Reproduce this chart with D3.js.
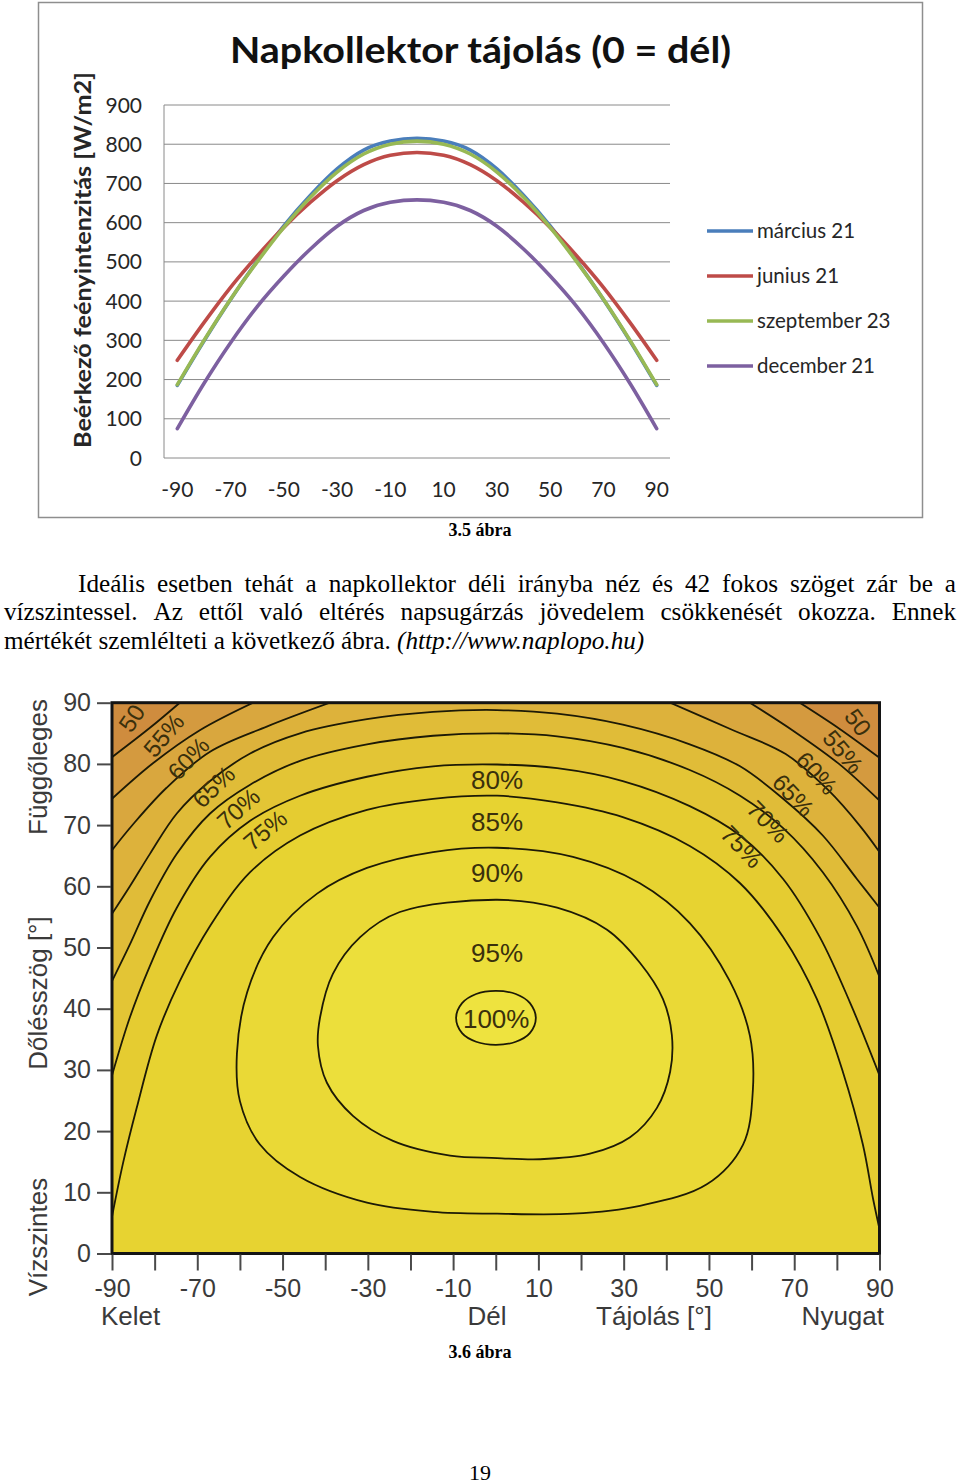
<!DOCTYPE html>
<html><head><meta charset="utf-8">
<script src="https://cdn.jsdelivr.net/npm/d3@7"></script>
<style>
html,body{margin:0;padding:0;background:#fff;}
svg{display:block;}
</style></head><body>
<svg id="page" width="960" height="1484"></svg>
<script>
// ===================== Chart 1 data =====================
const azimuths = [-90,-80,-70,-60,-50,-40,-30,-20,-10,0,10,20,30,40,50,60,70,80,90];
const azimuthLabels = [-90,-70,-50,-30,-10,10,30,50,70,90];
const irradianceTicks = [0,100,200,300,400,500,600,700,800,900];
const marcius21    = [185,298,404,502,592,670,737,785,808,815,808,785,737,670,592,502,404,298,185];
const junius21     = [249,345,435,515,588,652,707,748,772,779,772,748,707,652,588,515,435,345,249];
const szeptember23 = [187,300,405,500,588,665,729,775,800,808,800,775,729,665,588,500,405,300,187];
const december21   = [75,190,294,386,464,533,591,631,652,658,652,631,591,533,464,386,294,190,75];
const seriesNames  = ["március 21","junius 21","szeptember 23","december 21"];
const seriesColors = ["#4A7EBB","#BE4B48","#98B954","#7D60A0"];

// ===================== Chart 2 data =====================
const tiltTicks = [0,10,20,30,40,50,60,70,80,90];
const orientTicks = [-90,-80,-70,-60,-50,-40,-30,-20,-10,0,10,20,30,40,50,60,70,80,90];
const orientLabels = [-90,-70,-50,-30,-10,10,30,50,70,90];
// contour lines: [azimuth, tilt] points
const contour55 = [[[-90,81.1],[-81.1,85.9],[-74.1,90]], [[71.3,90],[80.5,85.8],[90,81]]];
const contour60 = [[[-90,74.3],[-80.4,80.1],[-69.4,85.5],[-56.9,90]], [[59.6,90],[70,85.3],[80.5,80],[90,74]]];
const contour65 = [[[-90,65.9],[-85.1,70.1],[-77.2,76.1],[-67,82],[-53.7,86.1],[-38.9,90]],
                   [[40.9,90],[55,85.7],[68,81.6],[78,75.7],[85.5,69.8],[90,65.6]]];
const contour70 = [[[-90,55.5],[-85.8,60],[-81.1,65.3],[-74.8,71.9],[-67,77.2],[-57.6,81.7],[-45.9,85],[-30.2,87.3],[-14.7,88.5],[0.3,88.8],[14.4,88.2],[29.8,86.4],[45.5,83.2],[57.3,79.6],[67.4,74.3],[76.7,68.3],[84.7,61.2],[90,56.5]]];
const contour75 = [[[-90,44.5],[-85.8,50.5],[-81.1,57.6],[-74.8,65.3],[-67,71.9],[-57.6,76.6],[-45.9,80.5],[-30.2,83.2],[-14.7,84.6],[0.3,85],[14.4,84.5],[29.8,82.6],[45.5,79],[57.3,74.8],[67.4,69.5],[76.7,62.3],[84.7,53.5],[90,45.2]]];
const contour80 = [[[-90,29.1],[-85.8,38.6],[-81.1,47],[-74.8,56.5],[-67,64.8],[-57.6,70.7],[-45.9,74.8],[-30.2,77.9],[-14.7,79.6],[0.3,79.9],[14.4,79.3],[29.8,77.2],[45.5,73.1],[57.3,68.3],[67.4,61.2],[76,51.7],[83.1,41],[90,29.1]]];
const contour85 = [[[-90,6],[-87.4,14.8],[-84.2,23.8],[-79.5,35.6],[-74.1,44.5],[-67,53.5],[-57.6,62.3],[-45.9,68.3],[-30.2,72.5],[-14.7,74.3],[0.3,74.8],[14.4,73.7],[29.8,71.3],[45.5,66.6],[57.3,60.5],[67.4,51.7],[75.3,41.6],[81.4,29.7],[86.1,17.8],[88.5,8.9],[90,4]]];
const contour90 = [[0.3,66.3],[18.1,64.8],[33.8,60.5],[45.5,54],[54.9,44.5],[59.6,35.6],[60.3,26.7],[58,17.8],[49.5,11.3],[33.8,7.8],[18.1,6.5],[0.3,6.5],[-14.7,6.8],[-30.2,8.3],[-45.9,12.5],[-55.3,17.8],[-60,24.9],[-60.7,32.7],[-58.3,42.7],[-52.2,51.7],[-41.9,58.8],[-30.2,63],[-14.7,65.6]];
const contour95 = [[0.3,57.8],[14.4,56.5],[26.1,52.9],[33.8,47.5],[39.2,41.6],[41.3,35.7],[40.9,29.7],[37.8,23.8],[31.5,19],[22.1,16.3],[10.4,15.4],[0.3,15.6],[-10.7,16],[-24.1,18.4],[-33.5,22.5],[-39.6,27.9],[-41.7,33.9],[-41.2,38.6],[-38.2,45.7],[-31.8,51.7],[-22.5,55.8]];
const contour100 = [[-9.3,38.5],[-7.9,40.9],[-4.6,42.4],[0,42.9],[4.7,42.4],[8,40.9],[9.4,38.5],[8,36],[4.7,34.6],[0,34.1],[-4.6,34.6],[-7.9,36]];
const openContours = [contour55,contour60,contour65,contour70,contour75,contour80,contour85];
const closedContours = [contour90,contour95,contour100];
const bandColors = ["#CF8C3E","#D49A3F","#D9A73E","#DDB23B","#E0BC38","#E3C535","#E5CC31","#E7D331","#EAD936","#ECDF3B","#EEE33F"];
// contour labels
const labelTexts  = ["50","55%","60%","65%","70%","75%","50","55%","60%","65%","70%","75%","80%","85%","90%","95%","100%"];
const labelAz     = [-85.4,-77.9,-72.1,-66.2,-60.4,-54.1, 85.0,81.5,75.3,69.8,63.9,57.7, 0.3,0.3,0.3,0.3,0.1];
const labelTilt   = [87.5,84.7,80.9,76.3,72.7,69.2, 86.8,82.0,78.5,74.9,70.6,66.5, 77.5,70.5,62.3,49.1,38.3];
const labelAngle  = [-56,-50,-47,-44,-42,-40, 54,50,48,47,46,46, 0,0,0,0,0];

// ===================== drawing =====================
const svg = d3.select("#page");
const calibri = "Lato, 'Open Sans', sans-serif";
const serif = "'Liberation Serif','Times New Roman',serif";
const sans = "'Liberation Sans', Arial, sans-serif";

// ---------- Chart 1 ----------
const x1 = d3.scalePoint().domain(azimuths).range([164,670]).padding(0.5);
const y1 = d3.scaleLinear().domain([0,900]).range([458,105]);
const g1 = svg.append("g");
g1.append("rect").attr("x",38.5).attr("y",2.5).attr("width",884).attr("height",515)
  .attr("fill","#fff").attr("stroke","#8e8e8e").attr("stroke-width",1.5);
g1.append("text").attr("x",480.5).attr("y",63).attr("text-anchor","middle")
  .attr("font-family",calibri).attr("font-weight",700).attr("font-size",37).attr("fill","#111")
  .attr("textLength",501).attr("lengthAdjust","spacingAndGlyphs")
  .text("Napkollektor tájolás (0 = dél)");
g1.selectAll(".grid").data(irradianceTicks).enter().append("line")
  .attr("x1",164).attr("x2",670).attr("y1",d=>y1(d)).attr("y2",d=>y1(d))
  .attr("stroke","#8a8a8a").attr("stroke-width",1);
g1.append("line").attr("x1",164).attr("x2",164).attr("y1",y1(900)).attr("y2",y1(0))
  .attr("stroke","#8a8a8a").attr("stroke-width",1);
g1.selectAll(".ylab").data(irradianceTicks).enter().append("text")
  .attr("x",142).attr("y",d=>y1(d)).attr("dy","0.36em").attr("text-anchor","end")
  .attr("font-family",calibri).attr("font-size",21).attr("fill","#262626").text(d=>d);
g1.selectAll(".xlab").data(azimuthLabels).enter().append("text")
  .attr("x",d=>x1(d)).attr("y",497).attr("text-anchor","middle")
  .attr("font-family",calibri).attr("font-size",21).attr("fill","#262626").text(d=>d);
g1.append("text").attr("transform","translate(83,260) rotate(-90)")
  .attr("text-anchor","middle").attr("dy","0.35em")
  .attr("font-family",calibri).attr("font-weight",700).attr("font-size",23).attr("fill","#262626")
  .attr("textLength",376).attr("lengthAdjust","spacingAndGlyphs")
  .text("Beérkező feényintenzitás [W/m2]");
const series = [marcius21,junius21,szeptember23,december21];
const line1 = d3.line().x((d,i)=>x1(azimuths[i])).y(d=>y1(d)).curve(d3.curveMonotoneX);
series.forEach((s,i)=>{
  g1.append("path").attr("d",line1(s)).attr("fill","none").attr("stroke",seriesColors[i])
    .attr("stroke-width",3.6).attr("stroke-linecap","round").attr("stroke-linejoin","round");
});
seriesNames.forEach((n,i)=>{
  const yy = 231 + i*45;
  g1.append("line").attr("x1",707).attr("x2",753).attr("y1",yy).attr("y2",yy)
    .attr("stroke",seriesColors[i]).attr("stroke-width",3.6);
  g1.append("text").attr("x",757).attr("y",yy).attr("dy","0.35em")
    .attr("font-family",calibri).attr("font-size",20.5).attr("fill","#262626").text(n);
});
svg.append("text").attr("x",480).attr("y",536).attr("text-anchor","middle")
  .attr("font-family",serif).attr("font-weight",700).attr("font-size",18).text("3.5 ábra");

// ---------- Paragraph ----------
const paraFont = 25.2;
const paraLines = [
  {x0:78, x1:956, y:592, words:"Ideális esetben tehát a napkollektor déli irányba néz és 42 fokos szöget zár be a".split(" ")},
  {x0:4, x1:956, y:620, words:"vízszintessel. Az ettől való eltérés napsugárzás jövedelem csökkenését okozza. Ennek".split(" ")}
];
paraLines.forEach(L=>{
  const nodes = L.words.map(w=>svg.append("text").attr("y",L.y).attr("font-family",serif)
     .attr("font-size",paraFont).attr("fill","#000").text(w));
  const widths = nodes.map(n=>n.node().getComputedTextLength());
  const gap = (L.x1 - L.x0 - d3.sum(widths)) / (nodes.length-1);
  let xx = L.x0;
  nodes.forEach((n,i)=>{ n.attr("x",xx); xx += widths[i] + gap; });
});
const last = svg.append("text").attr("x",4).attr("y",649).attr("font-family",serif)
  .attr("font-size",paraFont).attr("fill","#000");
last.append("tspan").text("mértékét szemlélteti a következő ábra. ");
last.append("tspan").attr("font-style","italic").text("(http://www.naplopo.hu)");

// ---------- Chart 2 ----------
const x2 = d3.scaleLinear().domain([-90,90]).range([112,879.5]);
const y2 = d3.scaleLinear().domain([0,90]).range([1253.5,702.7]);
const g2 = svg.append("g");
g2.append("clipPath").attr("id","plotclip").append("rect")
  .attr("x",x2(-90)).attr("y",y2(90)).attr("width",x2(90)-x2(-90)).attr("height",y2(0)-y2(90));
const plot = g2.append("g").attr("clip-path","url(#plotclip)");
plot.append("rect").attr("x",x2(-90)).attr("y",y2(90)).attr("width",x2(90)-x2(-90))
  .attr("height",y2(0)-y2(90)).attr("fill",bandColors[0]);
const lineOpen = d3.line().x(d=>x2(d[0])).y(d=>y2(d[1])).curve(d3.curveCatmullRom);
const lineClosed = d3.line().x(d=>x2(d[0])).y(d=>y2(d[1])).curve(d3.curveCatmullRomClosed);
openContours.forEach((segs,k)=>{
  let d = "";
  segs.forEach((s,i)=>{ let p = lineOpen(s); if(i>0) p = p.replace(/^M/,"L"); d += p; });
  d += `L${x2(90)},${y2(0)}L${x2(-90)},${y2(0)}Z`;
  plot.append("path").attr("d",d).attr("fill",bandColors[k+1]);
});
closedContours.forEach((c,k)=>{
  plot.append("path").attr("d",lineClosed(c)).attr("fill",bandColors[k+8]);
});
openContours.forEach(segs=>segs.forEach(s=>{
  plot.append("path").attr("d",lineOpen(s)).attr("fill","none").attr("stroke","#1d1a06").attr("stroke-width",1.8);
}));
closedContours.forEach(c=>{
  plot.append("path").attr("d",lineClosed(c)).attr("fill","none").attr("stroke","#1d1a06").attr("stroke-width",1.8);
});
labelTexts.forEach((t,i)=>{
  plot.append("text").attr("transform",`translate(${x2(labelAz[i])},${y2(labelTilt[i])}) rotate(${labelAngle[i]})`)
    .attr("text-anchor","middle").attr("dy","0.36em")
    .attr("font-family",sans).attr("font-size",i<12?24:26).attr("fill","#3a300c").text(t);
});
g2.append("rect").attr("x",x2(-90)).attr("y",y2(90)).attr("width",x2(90)-x2(-90))
  .attr("height",y2(0)-y2(90)).attr("fill","none").attr("stroke","#141414").attr("stroke-width",3);
// axes
const yAx = g2.append("g").attr("transform",`translate(${x2(-90)-1},0)`)
  .call(d3.axisLeft(y2).tickValues(tiltTicks).tickSize(14).tickPadding(6));
const xAx = g2.append("g").attr("transform",`translate(0,${y2(0)+1})`)
  .call(d3.axisBottom(x2).tickValues(orientTicks).tickSize(16).tickPadding(9)
        .tickFormat(d=>orientLabels.includes(d)?String(d):""));
[yAx,xAx].forEach(a=>{
  a.select(".domain").remove();
  a.selectAll(".tick line").attr("stroke","#4a4a4a").attr("stroke-width",2);
  a.selectAll(".tick text").attr("font-family",sans).attr("font-size",25).attr("fill","#3a3a3a");
});
const axisNames = [
  {t:"Kelet", x:101, anchor:"start"},
  {t:"Dél", x:487, anchor:"middle"},
  {t:"Tájolás [°]", x:654, anchor:"middle"},
  {t:"Nyugat", x:884, anchor:"end"}
];
axisNames.forEach(a=>{
  g2.append("text").attr("x",a.x).attr("y",1325).attr("text-anchor",a.anchor)
    .attr("font-family",sans).attr("font-size",26).attr("fill","#3a3a3a").text(a.t);
});
const sideNames = [
  {t:"Függőleges", y:767},
  {t:"Dőlésszög [°]", y:993},
  {t:"Vízszintes", y:1237}
];
sideNames.forEach(a=>{
  g2.append("text").attr("transform",`translate(38,${a.y}) rotate(-90)`).attr("text-anchor","middle")
    .attr("dy","0.36em").attr("font-family",sans).attr("font-size",26).attr("fill","#3a3a3a").text(a.t);
});
svg.append("text").attr("x",480).attr("y",1358).attr("text-anchor","middle")
  .attr("font-family",serif).attr("font-weight",700).attr("font-size",18).text("3.6 ábra");
svg.append("text").attr("x",480).attr("y",1480).attr("text-anchor","middle")
  .attr("font-family",serif).attr("font-size",22).text("19");
</script>
</body></html>
